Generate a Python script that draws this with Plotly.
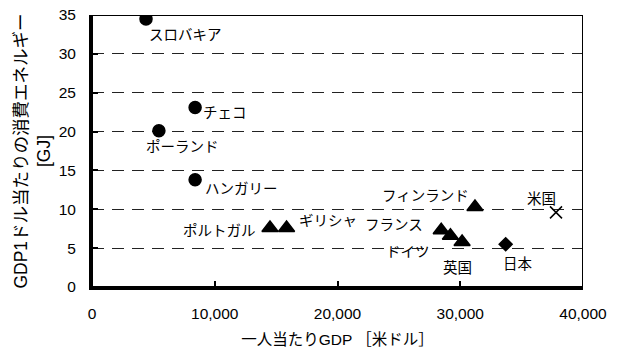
import plotly.graph_objects as go

# Per-capita GDP (USD) vs. energy consumption per 1 USD of GDP (GJ)
countries = ["スロバキア", "チェコ", "ポーランド", "ハンガリー",
             "ポルトガル", "ギリシャ", "フランス", "ドイツ", "英国", "フィンランド",
             "日本", "米国"]
gdp_per_capita = [4400, 8400, 5450, 8400,
                  14500, 15850, 28450, 29200, 30150, 31200,
                  33700, 37800]
energy_per_gdp = [34.5, 23.1, 20.1, 13.8,
                  7.6, 7.6, 7.3, 6.6, 5.8, 10.3,
                  5.5, 9.6]
groups = ["circle"] * 4 + ["triangle-up"] * 6 + ["diamond", "x-thin"]

x_ticks = [0, 10000, 20000, 30000, 40000]
x_tick_labels = ["0", "10,000", "20,000", "30,000", "40,000"]
y_ticks = [0, 5, 10, 15, 20, 25, 30, 35]

# label placement: (xanchor, xshift, yshift)
label_pos = {
    "スロバキア": ("left", 1, -16),
    "チェコ": ("left", 6, -6),
    "ポーランド": ("left", -15, -16),
    "ハンガリー": ("left", 8, -9),
    "ポルトガル": ("right", -12, -3),
    "ギリシャ": ("left", 10, 7),
    "フランス": ("right", -16, 5),
    "ドイツ": ("right", -18, -16),
    "英国": ("center", -5, -26),
    "フィンランド": ("right", -4, 11),
    "日本": ("center", 12, -20),
    "米国": ("right", 2, 13),
}

FONT = "Liberation Sans, Arial, Noto Sans CJK JP"

fig = go.Figure()

styles = {
    "circle": dict(size=12, lw=1.5),
    "triangle-up": dict(size=14, lw=1.5),
    "diamond": dict(size=10, lw=1.5),
    "x-thin": dict(size=12, lw=1.5),
}
for sym, st in styles.items():
    idx = [i for i, g in enumerate(groups) if g == sym]
    fig.add_trace(go.Scatter(
        x=[gdp_per_capita[i] for i in idx],
        y=[energy_per_gdp[i] for i in idx],
        mode="markers",
        marker=dict(symbol=sym, size=st["size"], color="black",
                    line=dict(color="black", width=st["lw"])),
        showlegend=False,
        hoverinfo="skip",
    ))

for name, gx, gy in zip(countries, gdp_per_capita, energy_per_gdp):
    xa, xs, ys = label_pos[name]
    fig.add_annotation(x=gx, y=gy, text=name, showarrow=False,
                       xanchor=xa, yanchor="middle", xshift=xs, yshift=ys,
                       font=dict(family=FONT, size=14.5, color="black"))

# plot frame (top and right edges)
fig.add_shape(type="rect", xref="x", yref="y", x0=0, x1=40000, y0=0, y1=35,
              line=dict(color="black", width=2), layer="above")

fig.update_layout(
    width=618, height=351,
    margin=dict(l=92, r=35, t=15, b=64),
    paper_bgcolor="white", plot_bgcolor="white",
    font=dict(family=FONT, size=15.5, color="black"),
    xaxis=dict(
        range=[0, 40000], tickvals=x_ticks, ticktext=x_tick_labels,
        showgrid=False, zeroline=False, automargin=False,
        showline=True, linecolor="black", linewidth=3,
        ticks="inside", ticklen=6, tickwidth=2, tickcolor="black",
        ticklabelstandoff=10,
        tickfont=dict(family=FONT, size=15.5),
        title=dict(text="一人当たりGDP ［米ドル］",
                   font=dict(family=FONT, size=15.5), standoff=14),
    ),
    yaxis=dict(
        range=[0, 35], tickvals=y_ticks,
        showgrid=True, gridcolor="#222222", gridwidth=1, griddash="12px,8px",
        zeroline=False, automargin=False,
        showline=True, linecolor="black", linewidth=3,
        ticks="inside", ticklen=6, tickwidth=2, tickcolor="black",
        ticklabelstandoff=10,
        tickfont=dict(family=FONT, size=15.5),
        title=dict(text="GDP1ドル当たりの消費エネルギー<br>[GJ]",
                   font=dict(family=FONT, size=17.5), standoff=4),
    ),
)

fig.write_html("out.html")
